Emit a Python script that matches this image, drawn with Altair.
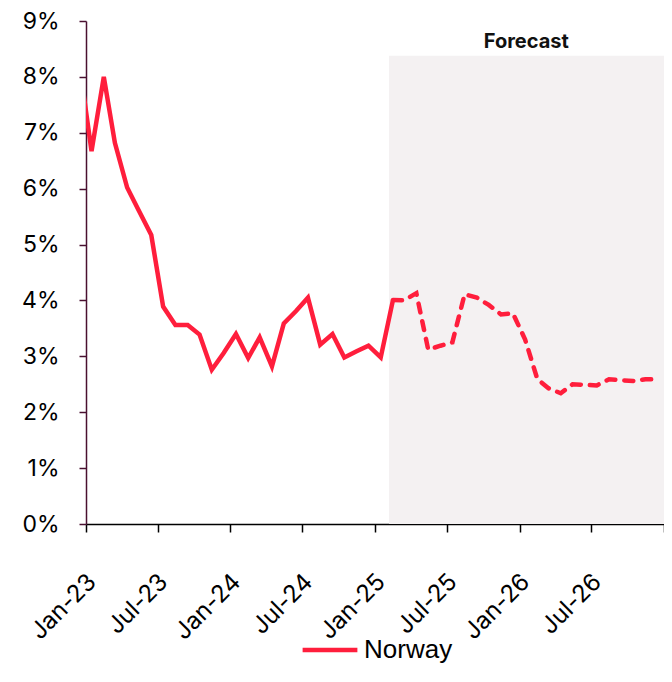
import altair as alt
import pandas as pd

# ---- data ----
actual_start = "2022-12-01"
actual_values = [8.25, 6.67, 8.00, 6.82, 6.02, 5.60, 5.17, 3.89, 3.56, 3.56, 3.39, 2.76, 3.06,
                 3.40, 2.97, 3.34, 2.82, 3.59, 3.81, 4.05, 3.21, 3.40, 2.98, 3.09, 3.19,
                 2.98, 4.01]
forecast_start = "2025-02-01"
forecast_values = [4.01, 4.00, 4.13, 3.12, 3.19, 3.25, 4.11, 4.05, 3.92, 3.75, 3.77,
                   3.30, 2.59, 2.43, 2.34, 2.50, 2.49, 2.48, 2.59, 2.57, 2.56, 2.59, 2.59]
series_name = "Norway"
shade_start = ["2025-02-05"]
shade_end = ["2027-01-01"]
shade_top = [8.38]
shade_label = ["Forecast"]
y_ticks = [0, 1, 2, 3, 4, 5, 6, 7, 8, 9]
x_tick_dates = ["2023-01-01", "2023-07-01", "2024-01-01", "2024-07-01", "2025-01-01",
                "2025-07-01", "2026-01-01", "2026-07-01", "2027-01-01"]

RED = "#ff1e3c"
AXIS = "#4a1030"

actual_df = pd.DataFrame({
    "date": (pd.date_range(actual_start, periods=len(actual_values), freq="MS")
             + pd.Timedelta(days=14)).strftime("%Y-%m-%d"),
    "value": actual_values,
    "series": series_name,
})
forecast_df = pd.DataFrame({
    "date": (pd.date_range(forecast_start, periods=len(forecast_values), freq="MS")
             + pd.Timedelta(days=14)).strftime("%Y-%m-%d"),
    "value": forecast_values,
    "series": series_name,
})

s0 = pd.Timestamp(shade_start[0]); s1 = pd.Timestamp(shade_end[0])
shade_df = pd.DataFrame({
    "start": shade_start, "end": shade_end, "top": shade_top, "label": shade_label,
    "mid": [(s0 + (s1 - s0) / 2).strftime("%Y-%m-%d")],
})


def dt(s):
    t = pd.Timestamp(s)
    return alt.DateTime(year=t.year, month=t.month, date=t.day, utc=True)


x_scale = alt.Scale(type="utc", domain=[dt("2023-01-01"), dt("2027-01-01")])
y_scale = alt.Scale(domain=[0, 9], nice=False)

x_axis = alt.Axis(
    values=[dt(d) for d in x_tick_dates],
    labelExpr="year(datum.value) >= 2027 ? '' : utcFormat(datum.value, '%b-%y')",
    labelAngle=-45, labelAlign="right", labelBaseline="middle",
    labelFontSize=24, labelFont="Inter", labelColor="#000000",
    labelPadding=46, labelOffset=6,
    domainColor="#000000", tickColor="#000000", tickSize=8, domainWidth=1.5, tickWidth=1.5,
    grid=False, title=None, labelOverlap=False, labelFlush=False,
)
y_axis = alt.Axis(
    values=y_ticks, labelExpr="datum.value + '%'",
    labelFontSize=23, labelFont="Inter", labelColor="#000000", labelPadding=20,
    domainColor=AXIS, tickColor=AXIS, tickSize=7, domainWidth=1.5, tickWidth=1.5,
    grid=False, title=None,
)

shade = alt.Chart(shade_df).mark_rect(color="#f4f1f2").encode(
    x=alt.X("start:T", scale=x_scale, axis=x_axis),
    x2="end:T",
    y=alt.Y("top:Q", scale=y_scale, axis=y_axis),
    y2=alt.datum(0),
)

label = alt.Chart(shade_df).mark_text(
    font="Inter", fontSize=20, fontWeight="bold", color="#111111", baseline="middle", dy=-14
).encode(
    x=alt.X("mid:T", scale=x_scale),
    y=alt.Y("top:Q", scale=y_scale),
    text="label:N",
)

color = alt.Color(
    "series:N",
    scale=alt.Scale(domain=[series_name], range=[RED]),
    legend=alt.Legend(
        title=None, orient="none", legendX=214, legendY=599, padding=0,
        symbolType="stroke", symbolStrokeWidth=4.5, symbolSize=3000,
        labelFontSize=26, labelFont="Liberation Sans", labelColor="#000000",
        labelOffset=4, symbolStrokeColor=RED,
    ),
)

actual_line = alt.Chart(actual_df).mark_line(strokeWidth=4.5, clip=True, strokeJoin="miter").encode(
    x=alt.X("date:T", scale=x_scale),
    y=alt.Y("value:Q", scale=y_scale),
    color=color,
)

forecast_line = alt.Chart(forecast_df).mark_line(
    strokeWidth=4.5, clip=True, strokeDash=[9, 9], strokeCap="round", color=RED
).encode(
    x=alt.X("date:T", scale=x_scale),
    y=alt.Y("value:Q", scale=y_scale),
)

chart = alt.layer(shade, label, actual_line, forecast_line).properties(
    width=578, height=503,
    autosize=alt.AutoSizeParams(type="none"),
    padding={"left": 78, "top": 13, "right": 0, "bottom": 142},
).configure_view(stroke=None)

chart.save("out.html", embed_options={"renderer": "svg", "actions": False})
